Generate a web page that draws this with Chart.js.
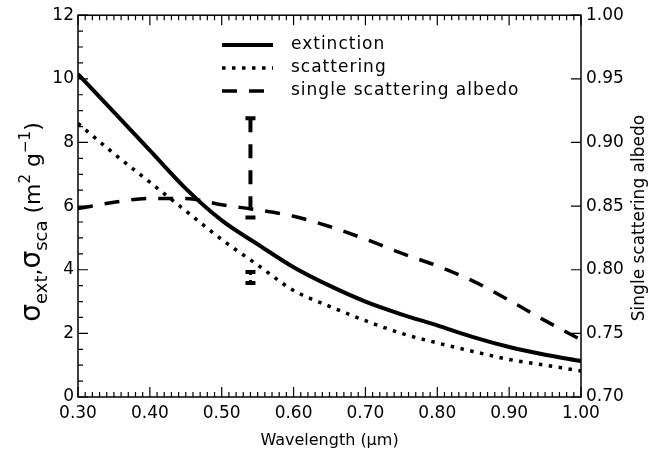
<!DOCTYPE html>
<html>
<head>
<meta charset="utf-8">
<script src="https://cdn.jsdelivr.net/npm/chart.js@4"></script>
<style>
  body { margin: 0; background: #fff; }
  #grafico { display: block; }
</style>
</head>
<body>
<canvas id="grafico" width="652" height="455"></canvas>
<script>
// dados
const comprimentoOnda = [0.30, 0.35, 0.40, 0.45, 0.50, 0.55, 0.60, 0.65, 0.70, 0.75, 0.80, 0.85, 0.90, 0.95, 1.00];
const extincao = [10.15, 8.95, 7.75, 6.55, 5.55, 4.8, 4.08, 3.5, 3.0, 2.6, 2.25, 1.88, 1.57, 1.33, 1.13];
const espalhamento = [8.6, 7.65, 6.75, 5.85, 4.95, 4.15, 3.35, 2.85, 2.4, 2.0, 1.7, 1.43, 1.18, 1.0, 0.82];
const albedo = [0.848, 0.853, 0.856, 0.856, 0.851, 0.847, 0.842, 0.834, 0.824, 0.813, 0.803, 0.791, 0.776, 0.760, 0.745];

// barras de erro em 0.54 um
const erroX = 0.54;
const erroAlbedo = [0.919, 0.841];
const erroEspalhamento = [3.93, 3.58];

const legendaTextos = ['extinction', 'scattering', 'single scattering albedo'];
const tituloDireita = 'Single scattering albedo';

const FONTE = "'DejaVu Sans', Arial, sans-serif";

function pontos(xs, ys) {
    return xs.map((x, i) => ({ x: x, y: ys[i] }));
}

// moldura + ticks para dentro (estilo IDL), legenda e titulos dos eixos y
const molduraPlugin = {
    id: 'moldura',
    afterDraw(chart) {
        const ctx = chart.ctx;
        const a = chart.chartArea;
        const sx = chart.scales.x, sy = chart.scales.y, sy2 = chart.scales.y2;
        ctx.save();
        ctx.strokeStyle = '#000';
        ctx.lineWidth = 1.5;
        ctx.strokeRect(a.left, a.top, a.right - a.left, a.bottom - a.top);

        ctx.lineWidth = 1.2;
        ctx.beginPath();
        for (let i = 0; i <= 70; i++) {
            const px = sx.getPixelForValue(0.30 + i * 0.01);
            const len = (i % 10 === 0) ? 10 : 5;
            ctx.moveTo(px, a.bottom); ctx.lineTo(px, a.bottom - len);
            ctx.moveTo(px, a.top); ctx.lineTo(px, a.top + len);
        }
        for (let i = 0; i <= 24; i++) {
            const py = sy.getPixelForValue(i * 0.5);
            const len = (i % 4 === 0) ? 10 : 5;
            ctx.moveTo(a.left, py); ctx.lineTo(a.left + len, py);
        }
        for (let i = 0; i <= 6; i++) {
            const py = sy2.getPixelForValue(0.70 + i * 0.05);
            ctx.moveTo(a.right, py); ctx.lineTo(a.right - 10, py);
        }
        ctx.stroke();

        // legenda
        ctx.font = '17px ' + FONTE;
        ctx.letterSpacing = '1px';
        ctx.fillStyle = '#000';
        ctx.textBaseline = 'middle';
        ctx.textAlign = 'left';
        for (let i = 0; i < 3; i++) {
            const ds = chart.data.datasets[i];
            const y = 45 + i * 23;
            ctx.beginPath();
            ctx.lineWidth = ds.borderWidth;
            ctx.setLineDash(ds.borderDash || []);
            ctx.moveTo(222, y); ctx.lineTo(273, y);
            ctx.stroke();
            ctx.setLineDash([]);
            ctx.fillText(legendaTextos[i], 291, y);
        }
        ctx.letterSpacing = '0px';

        // titulo da direita
        ctx.save();
        ctx.font = '17px ' + FONTE;
        ctx.translate(640, 218);
        ctx.rotate(-Math.PI / 2);
        ctx.textAlign = 'center';
        ctx.fillText(tituloDireita, 0, 0);
        ctx.restore();

        // titulo do eixo y com sub/sobrescritos
        const partes = [
            { t: '\u03c3', s: 28, d: 0 },
            { t: 'ext', s: 18, d: 7 },
            { t: ',', s: 22, d: 0 },
            { t: '\u03c3', s: 28, d: 0 },
            { t: 'sca', s: 18, d: 7 },
            { t: ' (m', s: 22, d: 0 },
            { t: '2', s: 15, d: -10 },
            { t: ' g', s: 22, d: 0 },
            { t: '\u22121', s: 15, d: -10 },
            { t: ')', s: 22, d: 0 }
        ];
        let total = 0;
        partes.forEach(p => { ctx.font = p.s + 'px ' + FONTE; p.w = ctx.measureText(p.t).width; total += p.w; });
        ctx.translate(40, 222);
        ctx.rotate(-Math.PI / 2);
        ctx.textAlign = 'left';
        ctx.textBaseline = 'alphabetic';
        let pos = -total / 2;
        partes.forEach(p => {
            ctx.font = p.s + 'px ' + FONTE;
            ctx.fillText(p.t, pos, p.d);
            pos += p.w;
        });
        ctx.restore();
    }
};

const dados = {
    datasets: [
        {
            label: legendaTextos[0],
            data: pontos(comprimentoOnda, extincao),
            yAxisID: 'y',
            borderColor: '#000',
            borderWidth: 4,
            pointRadius: 0,
            cubicInterpolationMode: 'monotone'
        },
        {
            label: legendaTextos[1],
            data: pontos(comprimentoOnda, espalhamento),
            yAxisID: 'y',
            borderColor: '#000',
            borderWidth: 3.5,
            borderDash: [3.5, 6.5],
            pointRadius: 0,
            cubicInterpolationMode: 'monotone'
        },
        {
            label: legendaTextos[2],
            data: pontos(comprimentoOnda, albedo),
            yAxisID: 'y2',
            borderColor: '#000',
            borderWidth: 3.5,
            borderDash: [15, 12],
            pointRadius: 0,
            cubicInterpolationMode: 'monotone'
        },
        {
            label: 'erro albedo',
            data: erroAlbedo.map(v => ({ x: erroX, y: v })),
            yAxisID: 'y2',
            borderColor: '#000',
            borderWidth: 4,
            borderDash: [14, 12],
            pointStyle: 'line',
            pointRadius: 5,
            pointBorderWidth: 4,
            pointBorderColor: '#000'
        },
        {
            label: 'erro espalhamento',
            data: erroEspalhamento.map(v => ({ x: erroX, y: v })),
            yAxisID: 'y',
            borderColor: '#000',
            borderWidth: 3,
            borderDash: [3, 5],
            pointStyle: 'line',
            pointRadius: 5,
            pointBorderWidth: 4,
            pointBorderColor: '#000'
        }
    ]
};

const config = {
    type: 'line',
    data: dados,
    options: {
        responsive: false,
        devicePixelRatio: 1,
        animation: false,
        layout: { padding: { top: 15, left: 0, right: 0, bottom: 0 } },
        plugins: { legend: { display: false }, tooltip: { enabled: false } },
        scales: {
            x: {
                type: 'linear',
                min: 0.30,
                max: 1.00,
                grid: { display: false, drawTicks: false },
                border: { display: false },
                ticks: {
                    stepSize: 0.1,
                    padding: 6,
                    color: '#000',
                    font: { family: FONTE, size: 17 },
                    maxRotation: 0,
                    callback: v => v.toFixed(2)
                },
                title: {
                    display: true,
                    text: 'Wavelength (\u03bcm)',
                    color: '#000',
                    font: { family: FONTE, size: 16 },
                    padding: { top: 0, bottom: 5 }
                },
                afterFit: s => { s.height = 58; }
            },
            y: {
                position: 'left',
                min: 0,
                max: 12,
                grid: { display: false, drawTicks: false },
                border: { display: false },
                ticks: {
                    stepSize: 2,
                    padding: 4,
                    color: '#000',
                    font: { family: FONTE, size: 17 }
                },
                afterFit: s => { s.width = 78; }
            },
            y2: {
                position: 'right',
                min: 0.70,
                max: 1.00,
                grid: { display: false, drawTicks: false },
                border: { display: false },
                ticks: {
                    stepSize: 0.05,
                    padding: 5,
                    color: '#000',
                    font: { family: FONTE, size: 17 },
                    callback: v => v.toFixed(2)
                },
                afterFit: s => { s.width = 71; }
            }
        }
    },
    plugins: [molduraPlugin]
};

let meuGrafico = new Chart(document.getElementById('grafico'), config);
</script>
</body>
</html>
